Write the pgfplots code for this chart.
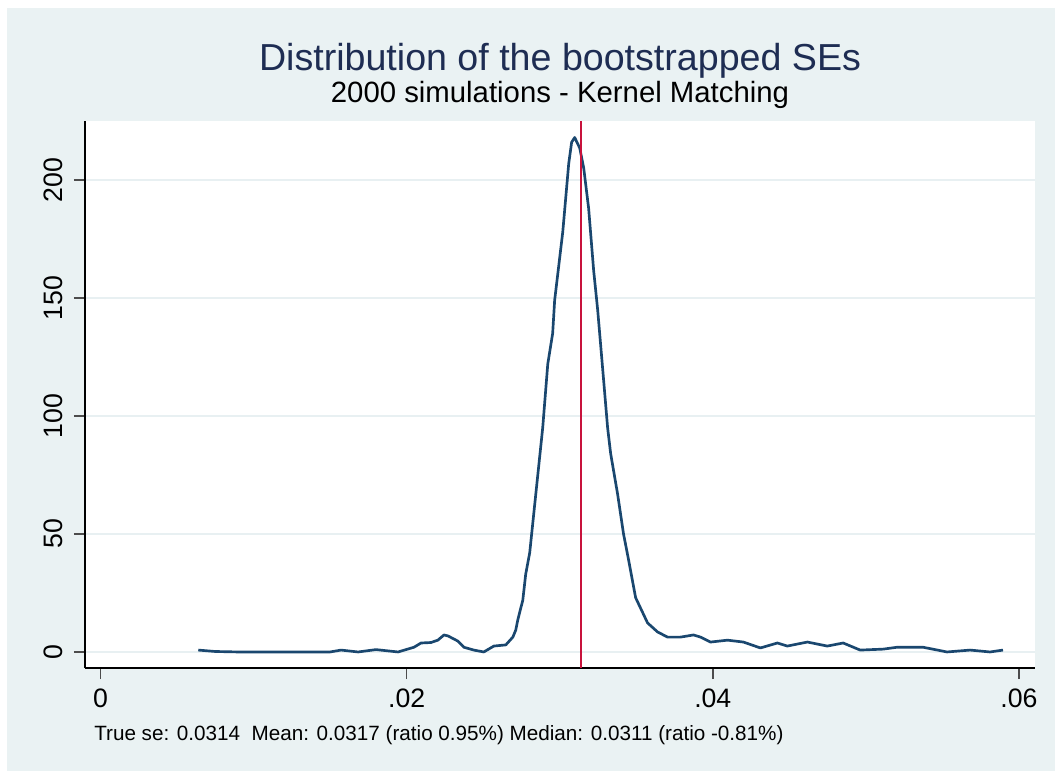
\documentclass[border=0pt]{standalone}
\usepackage{pgfplots}
\pgfplotsset{compat=1.18}
\usepackage{fontspec}
\setmainfont{Liberation Sans}

\definecolor{bgcol}{HTML}{EAF2F3}
\definecolor{gridcol}{HTML}{E8F0F2}
\definecolor{titlecol}{HTML}{1E2D53}
\definecolor{kdecol}{HTML}{1A476F}
\definecolor{truecol}{HTML}{C8123C}

% kernel density of the bootstrapped standard errors
\pgfplotstableread{
x        y
0.00639  0.8
0.00750  0.2
0.00900  0
0.01200  0
0.01500  0
0.01572  0.8
0.01683  0
0.01800  1
0.01944  0
0.02048  2
0.02094  3.8
0.02159  4
0.02204  5
0.02244  7.2
0.02270  6.8
0.02335  4.6
0.02374  2
0.02439  0.8
0.02504  0
0.02570  2.5
0.02648  3
0.02694  6.3
0.02713  9.3
0.02726  13.5
0.02759  22
0.02778  33
0.02804  42
0.02844  67
0.02889  95
0.02922  122
0.02954  135
0.02967  149
0.03020  178
0.03059  207
0.03078  216
0.03098  218
0.03131  213.5
0.03157  205
0.03189  188
0.03222  161.5
0.03248  145
0.03280  120.5
0.03313  95
0.03333  84
0.03378  67
0.03417  50
0.03450  39
0.03496  23
0.03574  12.3
0.03639  8.5
0.03704  6.3
0.03789  6.3
0.03874  7.2
0.03920  6.3
0.03985  4.2
0.04096  5
0.04200  4.2
0.04311  1.7
0.04422  3.8
0.04487  2.5
0.04618  4.2
0.04748  2.5
0.04852  3.8
0.04963  0.8
0.05113  1.2
0.05204  2
0.05374  2
0.05530  0
0.05681  0.8
0.05811  0
0.05896  0.8
}\kdedata

\begin{document}
\begin{tikzpicture}
\useasboundingbox (0,0) rectangle (791.25pt,-578.25pt);
\fill[white] (0,0) rectangle (791.25pt,-578.25pt);
\fill[bgcol] (5.25pt,-6pt) rectangle (791.25pt,-578.25pt);

\begin{axis}[
  at={(63.75pt,-501pt)}, anchor=south west,
  scale only axis, width=712.5pt, height=410.25pt,
  xmin=-0.00101, xmax=0.06105, ymin=-6.8, ymax=225,
  axis background/.style={fill=white},
  axis x line*=bottom, axis y line*=left,
  x axis line style={-, black, line width=1.1pt},
  y axis line style={-, black, line width=1.1pt},
  scaled x ticks=false, scaled y ticks=false,
  xtick={0,0.02,0.04,0.06}, xticklabels={0,.02,.04,.06},
  ytick={0,50,100,150,200}, yticklabels={0,50,100,150,200},
  tick align=outside, major tick length=8.25pt,
  tick style={black!70, line width=1.1pt},
  ymajorgrids, grid style={gridcol, line width=1.8pt},
  ticklabel style={font=\fontsize{20}{23}\selectfont, inner sep=0pt},
  xticklabel style={yshift=-7pt},
  y tick label style={rotate=90, anchor=south, yshift=8pt},
  clip=false,
]
\addplot[kdecol, line width=2pt, line join=round] table[x=x, y=y] {\kdedata};
\addplot[truecol, line width=2pt] coordinates {(0.0314,-6.8) (0.0314,225)};
\end{axis}

\node[anchor=base, text=titlecol, font=\fontsize{28.2}{32}\selectfont] at (420pt,-52.5pt)
  {Distribution of the bootstrapped SEs};
\node[anchor=base, font=\fontsize{22}{26}\selectfont] at (420pt,-76.5pt)
  {2000 simulations - Kernel Matching};
\node[anchor=base west, inner sep=0pt, font=\fontsize{15.5}{18}\selectfont] at (70.5pt,-555pt)
  {True se: 0.0314\ \ Mean: 0.0317 (ratio 0.95\%) Median: 0.0311 (ratio -0.81\%)};
\end{tikzpicture}
\end{document}
